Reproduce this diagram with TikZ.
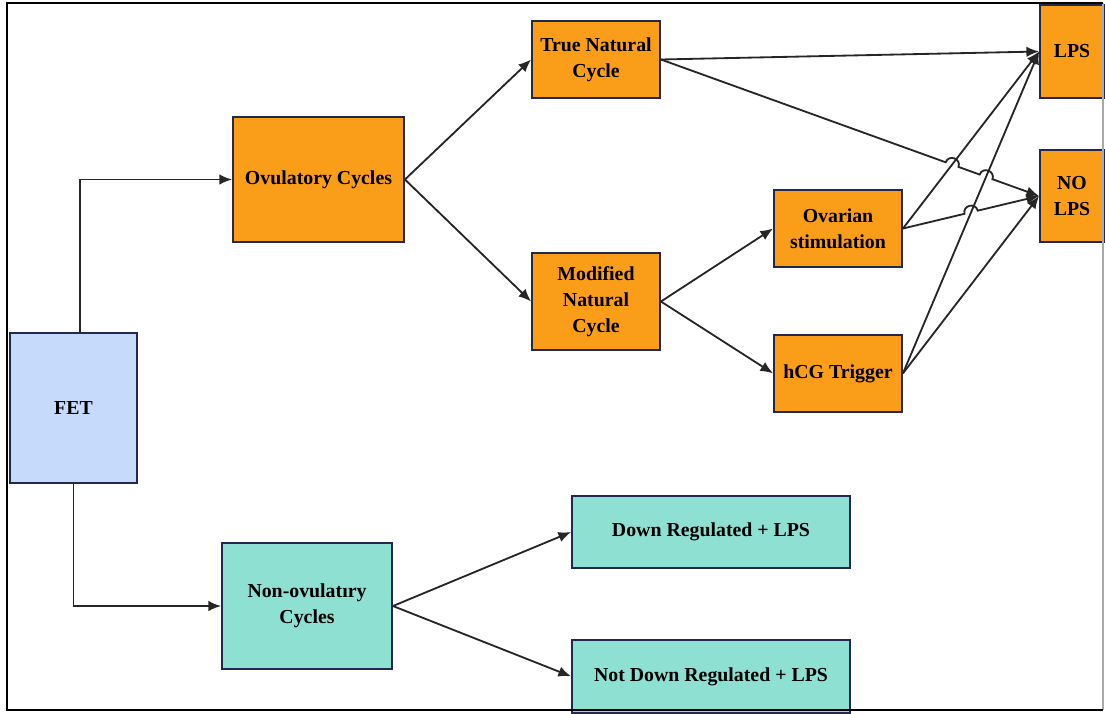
\documentclass[tikz,border=0pt]{standalone}
\usepackage{fontspec}
\setmainfont{Liberation Serif}
\usepackage{tikz}
\usetikzlibrary{positioning, arrows.meta, calc, intersections}
\definecolor{boxnavy}{RGB}{35, 40, 80}
\definecolor{ovorange}{RGB}{250, 158, 26}
\definecolor{fetblue}{RGB}{198, 219, 251}
\definecolor{nonteal}{RGB}{142, 224, 210}
\definecolor{framegray}{RGB}{170, 170, 170}

\begin{document}
\begin{tikzpicture}[
    x=0.025cm, y=-0.025cm,
    box/.style={rectangle, draw=boxnavy, line width=1.3pt, align=center, inner sep=0pt,
        font=\fontsize{14.1}{18.5}\selectfont\bfseries},
    ovul/.style={box, fill=ovorange, minimum width=3.2cm, minimum height=1.925cm},
    nonov/.style={box, fill=nonteal, minimum width=6.95cm, minimum height=1.8cm},
    endbox/.style={box, fill=ovorange, minimum width=1.6cm, minimum height=2.3cm},
    arrow/.style={-{Latex[length=9pt, width=7.5pt]}, line width=1.3pt, black!85}
]
    \useasboundingbox (0,0) rectangle (1105,713);

    % Start
    \node[box, fill=fetblue, minimum width=3.175cm, minimum height=3.75cm] (fet) at (73.5,408) {FET};

    % Ovulatory branch
    \node[box, fill=ovorange, minimum width=4.275cm, minimum height=3.125cm] (ovc) at (318.5,179.5) {Ovulatory Cycles};
    \node[ovul] (tnc) at (596,59.5) {True Natural\\Cycle};
    \node[ovul, minimum height=2.425cm] (mnc) at (596,301.5) {Modified\\Natural\\Cycle};
    \node[ovul] (ovs) at (838,228.5) {Ovarian\\stimulation};
    \node[ovul, below=1.65cm of ovs] (hcg) {hCG Trigger};

    % Outcomes
    \node[endbox, minimum height=2.325cm] (lps) at (1072,51.5) {LPS};
    \node[endbox] (nolps) at (1072,196) {NO\\LPS};

    % Non-ovulatory branch
    \node[box, fill=nonteal, minimum width=4.25cm, minimum height=3.15cm] (noc) at (307,606) {Non-ovulatıry\\Cycles};
    \node[nonov] (dreg) at (711,532) {Down Regulated + LPS};
    \node[nonov, minimum height=1.825cm, below=1.75cm of dreg] (ndreg) {Not Down Regulated + LPS};

    % Arrows
    \draw[arrow] ([xshift=0.16cm]fet.north) |- (ovc.west);
    \draw[arrow] (fet.south) |- (noc.west);
    \draw[arrow] (ovc.east) -- (tnc.west);
    \draw[arrow] (ovc.east) -- (mnc.west);
    \draw[arrow] (mnc.east) -- (ovs.west);
    \draw[arrow] (mnc.east) -- (hcg.west);
    \draw[arrow] (noc.east) -- (dreg.west);
    \draw[arrow] (noc.east) -- (ndreg.west);
    \draw[arrow] (tnc.east) -- (lps.west);
    \draw[arrow, name path=ovlps] (ovs.east) -- (lps.west);
    \draw[arrow, name path=hclps] (hcg.east) -- (lps.west);
    \draw[arrow] (hcg.east) -- (nolps.west);

    % Line jumps over crossings
    \path[name path=tnno] (tnc.east) -- (nolps.west);
    \path[name path=ovno] (ovs.east) -- (nolps.west);
    \path[name intersections={of=tnno and ovlps, by=j1}];
    \path[name intersections={of=tnno and hclps, by=j2}];
    \path[name intersections={of=ovno and hclps, by=j3}];
    \foreach \j/\f/\t in {j1/tnc.east/nolps.west, j2/tnc.east/nolps.west, j3/ovs.east/nolps.west} {
        \coordinate (\j a) at ($(\j)!0.17cm!(\f)$);
        \coordinate (\j b) at ($(\j)!0.17cm!(\t)$);
        \coordinate (\j c) at ($(\j a)!0.22cm!-90:(\f)$);
        \coordinate (\j d) at ($(\j b)!0.22cm!90:(\t)$);
    }
    \draw[arrow] (tnc.east) -- (j1a) .. controls (j1c) and (j1d) .. (j1b)
        -- (j2a) .. controls (j2c) and (j2d) .. (j2b) -- (nolps.west);
    \draw[arrow] (ovs.east) -- (j3a) .. controls (j3c) and (j3d) .. (j3b) -- (nolps.west);

    % Frame
    \draw[framegray, line width=0.8pt] (1103,3) -- (1103,710);
    \draw[black, line width=1.3pt] (1103,3) -- (7,3) -- (7,710) -- (1103,710);
\end{tikzpicture}
\end{document}
